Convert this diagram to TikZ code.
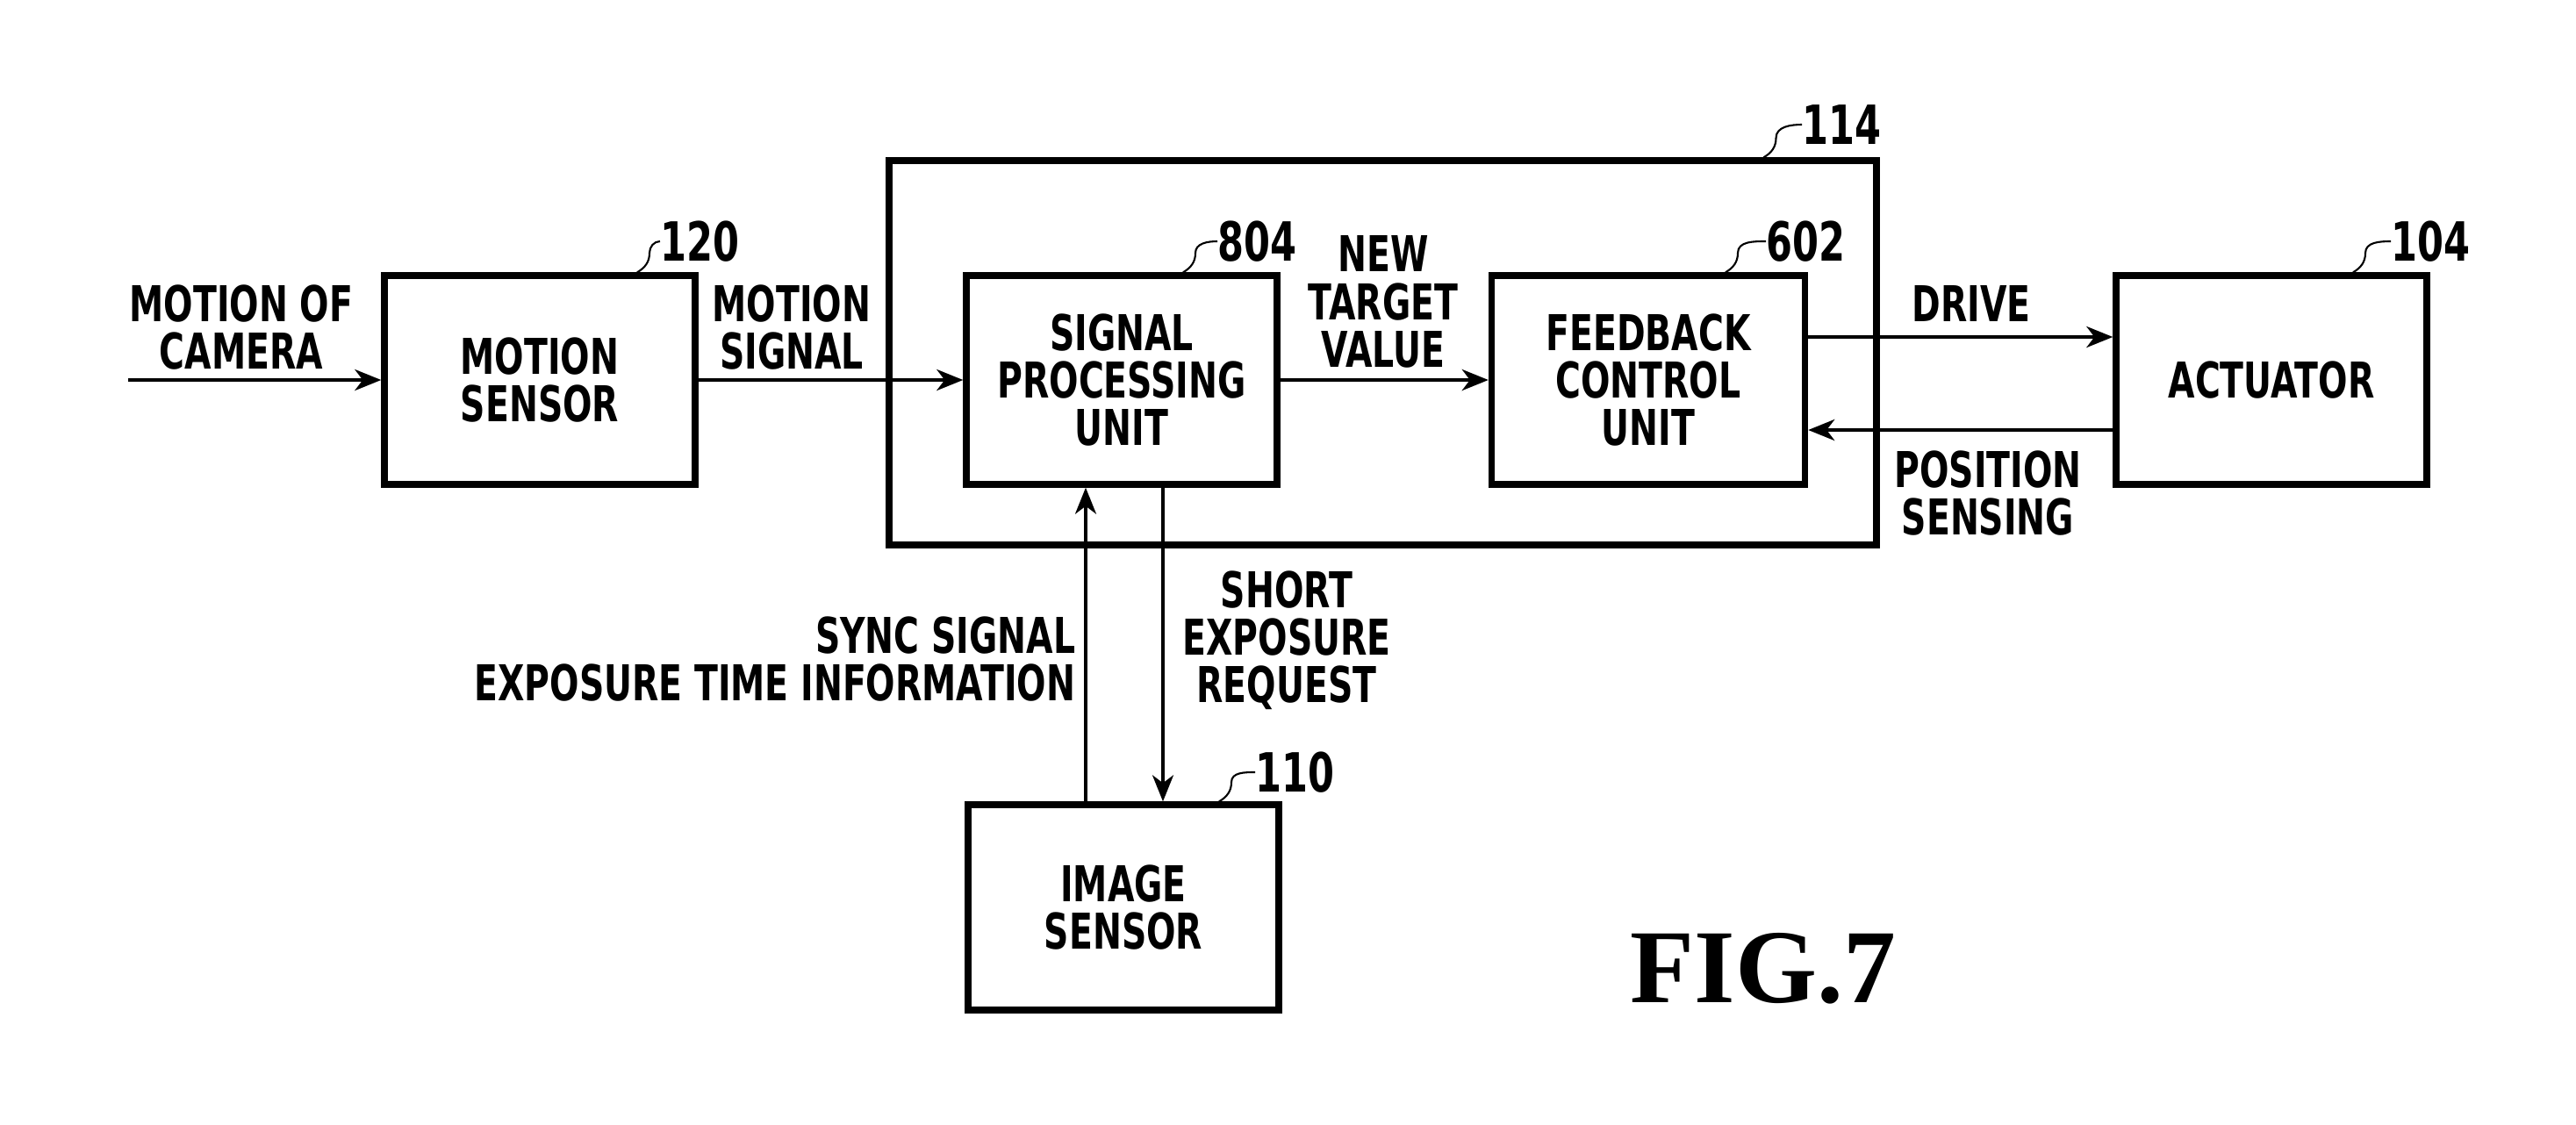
\documentclass[tikz,border=0pt]{standalone}
\usepackage{fontspec}
\setmainfont[FakeStretch=0.7]{DejaVu Sans}
\newfontfamily\figfont{Liberation Serif}
\usetikzlibrary{arrows.meta,calc}

\newcommand{\lblfont}{\fontsize{16}{15.4}\selectfont\bfseries}
\newcommand{\numfont}{\fontsize{17.5}{16}\selectfont\bfseries}

\tikzset{
  block/.style={draw, line width=2.1pt, minimum width=3.54cm, minimum height=2.38cm, align=center, font=\lblfont},
  sig/.style={-{Stealth[length=0.3cm,width=0.24cm,inset=0.09cm]}, line width=1.2pt},
  lbl/.style={align=center, font=\lblfont, inner sep=0pt},
  refnum/.style={anchor=west, inner sep=0pt, font=\numfont},
  leader/.style={line width=0.6pt},
}

\begin{document}
\begin{tikzpicture}
  \useasboundingbox (0,0) rectangle (29.35,-12.81);

  % Draw the blocks
  \node[block] (msens) at (6.15,-4.33) {MOTION\\SENSOR};
  \node[block] (spu) at (12.78,-4.33) {SIGNAL\\PROCESSING\\UNIT};
  \node[block, minimum width=3.57cm] (fcu) at (18.78,-4.33) {FEEDBACK\\CONTROL\\UNIT};
  \node[block] (act) at (25.88,-4.33) {ACTUATOR};
  \node[block, minimum height=2.34cm] (isens) at (12.80,-10.34) {IMAGE\\SENSOR};

  % Draw the unit 114 around them
  \node[draw, line width=2.1pt, minimum width=11.25cm, minimum height=4.38cm] (ctrl) at (15.755,-4.02) {};

  % Draw the signal arrows
  \coordinate (camin) at (1.46,-4.33);
  \draw[sig] (camin) -- (msens);
  \draw[sig] (msens) -- (spu);
  \draw[sig] (spu) -- (fcu);
  \draw[sig] (fcu.east |- 0,-3.84) -- (act.west |- 0,-3.84);
  \draw[sig] (act.west |- 0,-4.90) -- (fcu.east |- 0,-4.90);
  \draw[sig, line width=1pt] (isens.north -| 12.37,0) -- (spu.south -| 12.37,0);
  \draw[sig, line width=1pt] (spu.south -| 13.25,0) -- (isens.north -| 13.25,0);

  % Add labels for the arrows
  \node[lbl] (lcam) at (2.75,-3.73) {MOTION OF\\CAMERA};
  \node[lbl] (lmot) at (9.02,-3.73) {MOTION\\SIGNAL};
  \node[lbl] (ltgt) at (15.76,-3.44) {NEW\\TARGET\\VALUE};
  \node[lbl] (ldrv) at (22.46,-3.46) {DRIVE};
  \node[lbl] (lpos) at (22.65,-5.62) {POSITION\\SENSING};
  \node[lbl, align=right, anchor=east] (lsync) at (12.26,-7.51) {SYNC SIGNAL\\EXPOSURE TIME INFORMATION};
  \node[lbl] (lreq) at (14.66,-7.30) {SHORT\\EXPOSURE\\REQUEST};

  % Add the reference numbers
  \node[refnum] (n120) at (7.52,-2.75) {120};
  \node[refnum] (n804) at (13.87,-2.75) {804};
  \node[refnum] (n602) at (20.12,-2.75) {602};
  \node[refnum] (n114) at (20.53,-1.42) {114};
  \node[refnum] (n104) at (27.24,-2.75) {104};
  \node[refnum] (n110) at (14.30,-8.80) {110};
  \draw[leader] ($(msens.north)+(1.11,0)$) to[out=30,in=-90] ($(msens.north)+(1.25,0.22)$) to[out=90,in=180] (n120.west);
  \draw[leader] ($(spu.north)+(0.70,0)$) to[out=30,in=-90] ($(spu.north)+(0.84,0.22)$) to[out=90,in=180] (n804.west);
  \draw[leader] ($(fcu.north)+(0.88,0)$) to[out=30,in=-90] ($(fcu.north)+(1.02,0.22)$) to[out=90,in=180] (n602.west);
  \draw[leader] ($(ctrl.north)+(4.34,0)$) to[out=30,in=-90] ($(ctrl.north)+(4.48,0.22)$) to[out=90,in=180] (n114.west);
  \draw[leader] ($(act.north)+(0.93,0)$) to[out=30,in=-90] ($(act.north)+(1.07,0.22)$) to[out=90,in=180] (n104.west);
  \draw[leader] ($(isens.north)+(1.09,0)$) to[out=30,in=-90] ($(isens.north)+(1.23,0.22)$) to[out=90,in=180] (n110.west);

  % Add the figure title
  \node[font=\figfont\bfseries\fontsize{34}{36}\selectfont] (fig) at (20.09,-11.04) {FIG.7};
\end{tikzpicture}
\end{document}
